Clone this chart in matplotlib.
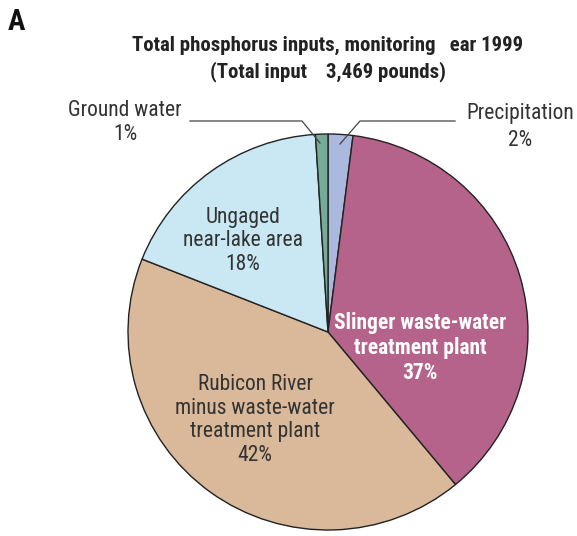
import matplotlib
matplotlib.use('Agg')
import matplotlib.pyplot as plt
from matplotlib import font_manager

# Data (percent of total phosphorus input)
labels = ['Precipitation', 'Slinger waste-water treatment plant',
          'Rubicon River minus waste-water treatment plant',
          'Ungaged near-lake area', 'Ground water']
values = [2, 37, 42, 18, 1]
colors = ['#aab9dd', '#b5638a', '#d9b99a', '#c9e8f3', '#76ab98']

names = [f.name for f in font_manager.fontManager.ttflist]
fam = ['Roboto Condensed', 'DejaVu Sans'] if 'Roboto Condensed' in names else ['DejaVu Sans']
plt.rcParams['font.family'] = fam

W, H = 577, 536
fig = plt.figure(figsize=(W / 100, H / 100), dpi=100)

# pie axes: center (328, 332), rx 200, ry 198 in pixels
cx, cy, rx, ry = 328, 332, 200, 198
ax = fig.add_axes([(cx - rx) / W, 1 - (cy + ry) / H, 2 * rx / W, 2 * ry / H])
ax.pie(values, colors=colors, startangle=90, counterclock=False,
       wedgeprops=dict(edgecolor='#222222', linewidth=1.0))
ax.set_aspect('auto')
ax.set_xlim(-1, 1)
ax.set_ylim(-1, 1)

# overlay in pixel coordinates
ov = fig.add_axes([0, 0, 1, 1])
ov.set_xlim(0, W)
ov.set_ylim(H, 0)
ov.axis('off')
ov.patch.set_alpha(0)

ov.text(8, 22, 'A', fontsize=21, fontweight='bold', ha='left', va='center', color='#111111')
ov.text(328, 45, 'Total phosphorus inputs, monitoring   ear 1999', fontsize=15,
        fontweight='bold', ha='center', va='center', color='#222222')
ov.text(328, 72, '(Total input    3,469 pounds)', fontsize=15,
        fontweight='bold', ha='center', va='center', color='#222222')

tc = '#333333'
fs = 15.5
ov.text(125, 110, 'Ground water', fontsize=fs, ha='center', va='center', color=tc)
ov.text(125, 135, '1%', fontsize=fs, ha='center', va='center', color=tc)
ov.text(520, 113, 'Precipitation', fontsize=fs, ha='center', va='center', color=tc)
ov.text(520, 140, '2%', fontsize=fs, ha='center', va='center', color=tc)

ov.plot([190, 302, 320], [121, 121, 143], color='#444444', lw=0.9)
ov.plot([455, 360, 340], [121, 121, 144], color='#444444', lw=0.9)

ov.text(243, 241, 'Ungaged\nnear-lake area\n18%', fontsize=fs, ha='center',
        va='center', color=tc, linespacing=1.15)
ov.text(420, 348, 'Slinger waste-water\ntreatment plant\n37%', fontsize=fs,
        fontweight='bold', ha='center', va='center', color='white', linespacing=1.15)
ov.text(255, 420, 'Rubicon River\nminus waste-water\ntreatment plant\n42%', fontsize=fs,
        ha='center', va='center', color=tc, linespacing=1.15)

fig.savefig('out.png', dpi=100)
